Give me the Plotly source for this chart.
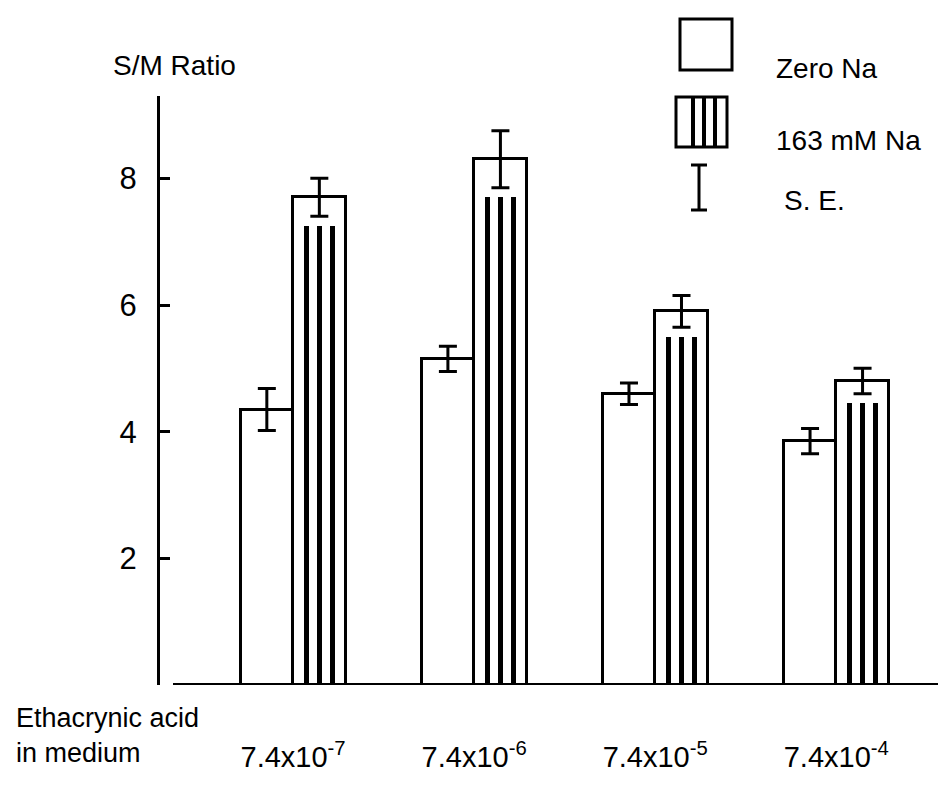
import plotly.graph_objects as go

# ---- data ----
concentrations = ["7.4x10<sup>-7</sup>", "7.4x10<sup>-6</sup>", "7.4x10<sup>-5</sup>", "7.4x10<sup>-4</sup>"]
group_pos = [0, 1, 2, 3]
zero_na = [4.35, 5.15, 4.6, 3.85]
zero_na_se = [0.33, 0.2, 0.17, 0.2]
na_163 = [7.7, 8.3, 5.9, 4.8]
na_163_se = [0.3, 0.45, 0.25, 0.2]
y_ticks = [2, 4, 6, 8]

W, H = 946, 789
L, R, T, B = 152, 0, 88, 112
pw, ph = W - L - R, H - T - B


def px(x):
    return (x - L) / pw


def py(y):
    return (H - B - y) / ph


FONT = "Liberation Sans, Arial"
FS = 28
bw = 0.29

fig = go.Figure()
fig.add_trace(go.Bar(
    x=[g - bw / 2 for g in group_pos], y=zero_na, width=bw,
    marker=dict(color="white", line=dict(color="black", width=3)),
    error_y=dict(type="data", array=zero_na_se, color="black", thickness=3, width=9),
    name="Zero Na", showlegend=False,
))
fig.add_trace(go.Bar(
    x=[g + bw / 2 for g in group_pos], y=na_163, width=bw,
    marker=dict(color="white", line=dict(color="black", width=3)),
    error_y=dict(type="data", array=na_163_se, color="black", thickness=3, width=9),
    name="163 mM Na", showlegend=False,
))
# vertical hatch stripes inside the 163 mM Na bars (stop below the lower S.E. whisker)
stripe_h = [v - e - 0.15 for v, e in zip(na_163, na_163_se)]
for k in (-0.25, 0.0, 0.25):
    fig.add_trace(go.Bar(
        x=[g + bw / 2 + k * bw for g in group_pos], y=stripe_h, width=0.03,
        marker=dict(color="black", line=dict(width=0)), showlegend=False, hoverinfo="skip",
    ))

# baseline
fig.add_shape(type="line", xref="paper", yref="y", x0=px(165), x1=1, y0=0, y1=0,
              line=dict(color="black", width=4))

# legend (drawn)
fig.add_shape(type="rect", xref="paper", yref="paper", x0=px(672), x1=px(724), y0=py(62), y1=py(11),
              line=dict(color="black", width=3), fillcolor="white")
fig.add_shape(type="rect", xref="paper", yref="paper", x0=px(668), x1=px(719), y0=py(139), y1=py(89),
              line=dict(color="black", width=3), fillcolor="white")
for xx in [685, 696, 707]:
    fig.add_shape(type="line", xref="paper", yref="paper", x0=px(xx), x1=px(xx), y0=py(139), y1=py(89),
                  line=dict(color="black", width=4))
fig.add_shape(type="line", xref="paper", yref="paper", x0=px(691), x1=px(691), y0=py(202), y1=py(157),
              line=dict(color="black", width=3))
for yy in [157, 202]:
    fig.add_shape(type="line", xref="paper", yref="paper", x0=px(683), x1=px(699), y0=py(yy), y1=py(yy),
                  line=dict(color="black", width=3))

legend_texts = [("Zero Na", 766, 61), ("163 mM Na", 766, 132), ("S. E.", 774, 192)]
for txt, x, y in legend_texts:
    fig.add_annotation(text=txt, xref="paper", yref="paper", x=px(x), y=py(y), xanchor="left",
                       yanchor="middle", showarrow=False, font=dict(size=FS, color="black", family=FONT))

fig.add_annotation(text="S/M Ratio", xref="paper", yref="paper", x=px(103), y=py(58), xanchor="left",
                   yanchor="middle", showarrow=False, font=dict(size=FS, color="black", family=FONT))
fig.add_annotation(text="Ethacrynic acid<br>in medium", xref="paper", yref="paper", x=px(6), y=py(727),
                   xanchor="left", yanchor="middle", align="left", showarrow=False,
                   font=dict(size=27, color="black", family=FONT))

fig.update_layout(
    width=W, height=H,
    margin=dict(l=L, r=R, t=T, b=B),
    paper_bgcolor="white", plot_bgcolor="white",
    bargap=0, barmode="overlay",
    font=dict(family=FONT, size=FS, color="black"),
    xaxis=dict(range=[-0.735, 3.65], tickvals=group_pos, ticktext=concentrations,
               showline=False, showgrid=False, zeroline=False, ticks="",
               tickfont=dict(size=29), ticklabelstandoff=52),
    yaxis=dict(range=[0, 9.3], tickvals=y_ticks, showline=True, linecolor="black", linewidth=3,
               showgrid=False, zeroline=False, ticks="inside", ticklen=10, tickwidth=3, tickcolor="black",
               tickfont=dict(size=31), ticklabelstandoff=14),
)

fig.write_html("out.html")
